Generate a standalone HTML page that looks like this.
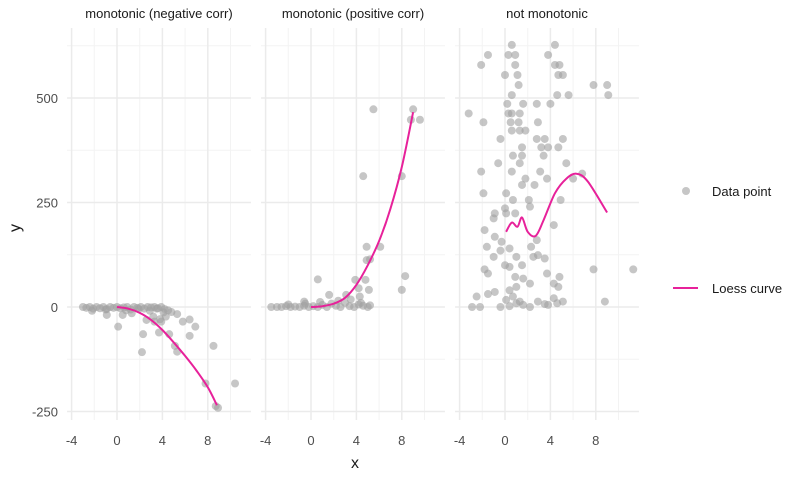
<!DOCTYPE html>
<html><head><meta charset="utf-8"><style>
body{margin:0;background:#fff;width:808px;height:472px;overflow:hidden}
svg text{font-family:"Liberation Sans",sans-serif}
</style></head><body>
<svg id="chart" width="808" height="472" xmlns="http://www.w3.org/2000/svg"></svg>
<script>
const panelTitles=["monotonic (negative corr)","monotonic (positive corr)","not monotonic"];
const xTicks=[-4,0,4,8];
const xMinor=[-2,2,6,10];
const yTicks=[-250,0,250,500];
const yMinor=[-125,125,375,625];
// panel 1
const negX=[-3,-2.7,-2.4,-2.1,-1.8,-1.5,-1.2,-0.9,-0.6,-0.3,0,0.3,0.6,0.9,1.2,1.5,1.8,2.1,2.4,2.7,3,3.3,3.6,3.9,4.2,4.5,-2.2,-1,0.8,1.9,2.9,3.5,4.8,0.1,2.3,2.2,3.9,4.3,5.3,5.8,6.4,6.9,6.4,3.7,4.6,5.1,5.3,8.5,7.8,10.4,8.7,8.9,3.3,3.8,0.5,1.3,-0.9,3.2,4.1,2.6];
const negY=[0,-2,0,-4,0,-3,0,-5,0,-2,0,-3,-1,0,-6,0,-2,0,-4,0,-1,0,-3,0,-5,-8,-9,-6,-8,-5,-9,-4,-12,-47,-65,-108,-35,-23,-17,-35,-30,-47,-69,-61,-65,-93,-107,-93,-183,-183,-237,-241,-35,-29,-19,-15,-19,-23,-13,-31];
const negLoessX=[0,1,2,3,4,5,6,7,8,8.8];
const negLoessY=[0,-4,-14,-31,-55,-85,-117,-152,-192,-235];
// panel 2
const posX=[-3.5,-3,-2.6,-2.2,-1.8,-1.4,-1,-0.6,-0.2,0.2,0.6,1,1.4,1.8,2.2,2.6,3,3.4,3.8,4.2,4.6,5,5.2,-2,-0.5,0.8,2.4,3.5,4.4,0.6,1.6,-0.6,3.1,4.2,3.9,4.8,5.1,4.3,4.9,5.2,4.9,6.1,8.3,8,5.5,9,8.8,9.6,4.6,8];
const posY=[0,0,0,2,0,1,0,3,0,2,0,5,0,8,3,0,10,2,0,6,3,0,4,6,8,12,15,18,10,66,29,13,29,45,65,65,41,25,112,114,144,144,74,41,473,473,448,448,313,313];
const posLoessX=[0,1,2,3,4,5,6,7,8,9];
const posLoessY=[0,2,8,22,53,100,158,235,335,466];
// panel 3
const nmX=[0.6,-1.5,0.3,0.9,-2.1,0.9,0,1.1,1.2,0.6,0.2,1.6,-3.2,0.3,0.6,1.3,-1.9,0.5,1.2,0.6,1.3,1.8,-0.4,1.5,0.7,1.5,-0.6,1.3,-2.1,0.6,1.8,1.5,-1.9,0.1,0.7,0,-0.9,-1,0.1,0.9,-1.8,-0.9,-0.3,-1.6,-0.4,0.4,-1,1,0,-1.8,-1.5,0.4,1.5,0.9,1.6,2.2,1,-0.9,-1.5,-2.5,-2.2,-2.9,0.4,0.7,0.1,1,1.6,2.2,-0.4,0.4,1.3,2.8,4,3.8,4.4,4.4,4.8,4.7,5.1,4.6,5.6,7.8,9,9.1,2.9,2.8,3.5,5.1,3.2,3.8,4.7,3.4,5.4,3.1,3.7,2.6,6,6.8,4.9,2.2,2.1,4.3,2.8,2.3,2.9,2.5,3.5,7.8,11.3,3.7,4.8,4.3,4.7,2.9,3.5,4.3,4.6,5.1,3.8,8.8];
const nmY=[627,603,603,603,579,579,555,555,531,507,486,486,463,463,463,463,442,442,442,422,422,422,402,382,362,362,344,344,324,324,307,292,272,272,256,236,224,212,224,224,184,168,156,144,135,140,120,120,100,90,80,96,100,72,68,56,48,36,31,25,0,0,40,25,17,9,5,0,0,2,13,486,486,603,627,579,579,555,555,507,507,531,531,507,442,402,402,402,382,382,382,362,344,324,307,292,307,319,256,240,256,196,160,144,124,120,116,90,90,80,72,56,48,13,7,21,9,13,5,13];
const nmLoessX=[0.1,0.6,1.1,1.5,2,2.7,3.4,4.4,5.4,6.3,7.3,9];
const nmLoessY=[180,202,192,214,180,170,208,272,307,319,300,226];

const svg=document.getElementById('chart');
const NS="http://www.w3.org/2000/svg";
const origins=[117,311,505];
const kx=11.35, y0=307, ky=0.418;
const sy=v=>y0-v*ky;
function el(t,a,p){const e=document.createElementNS(NS,t);for(const k in a)e.setAttribute(k,a[k]);(p||svg).appendChild(e);return e;}
function smooth(P){let d='M'+P[0][0].toFixed(1)+','+P[0][1].toFixed(1);
  for(let i=0;i<P.length-1;i++){const p0=P[Math.max(0,i-1)],p1=P[i],p2=P[i+1],p3=P[Math.min(P.length-1,i+2)];
    const c1=[p1[0]+(p2[0]-p0[0])/6,p1[1]+(p2[1]-p0[1])/6],c2=[p2[0]-(p3[0]-p1[0])/6,p2[1]-(p3[1]-p1[1])/6];
    d+='C'+c1.map(v=>v.toFixed(1)).join(',')+' '+c2.map(v=>v.toFixed(1)).join(',')+' '+p2[0].toFixed(1)+','+p2[1].toFixed(1);}
  return d;}
const pts=[[negX,negY],[posX,posY],[nmX,nmY]];
const loess=[[negLoessX,negLoessY],[posLoessX,posLoessY],[nmLoessX,nmLoessY]];
for(let p=0;p<3;p++){
  const o=origins[p];const sx=v=>o+v*kx;
  const g=el('g',{});
  
  
  const L=sx(-4.4),R=sx(11.8);
  yMinor.forEach(v=>{const l=el('line',{x1:L,x2:R,y1:sy(v),y2:sy(v),stroke:'#f3f3f3','stroke-width':1},g);});
  xMinor.forEach(v=>{const l=el('line',{x1:sx(v),x2:sx(v),y1:28,y2:420,stroke:'#f3f3f3','stroke-width':1},g);});
  yTicks.forEach(v=>{const l=el('line',{x1:L,x2:R,y1:sy(v),y2:sy(v),stroke:'#ebebeb','stroke-width':1.5},g);});
  xTicks.forEach(v=>{const l=el('line',{x1:sx(v),x2:sx(v),y1:28,y2:420,stroke:'#ebebeb','stroke-width':1.5},g);
    const t=el('text',{x:sx(v),y:445,'text-anchor':'middle','font-size':13,fill:'#4d4d4d'},g);t.textContent=v;});
  const tt=el('text',{x:(L+R)/2,y:18,'text-anchor':'middle','font-size':13,fill:'#1a1a1a'},g);tt.textContent=panelTitles[p];
  
  const [xs,ys]=pts[p];
  xs.forEach((x,i)=>{const c=el('circle',{cx:sx(x),cy:sy(ys[i]),r:4,fill:'#a0a0a0','fill-opacity':0.6},g);});
  const [lx,ly]=loess[p];
  const P=lx.map((x,i)=>[sx(x),sy(ly[i])]);
  const path=el('path',{d:smooth(P),fill:'none',stroke:'#e7219a','stroke-width':2,'stroke-linejoin':'round'},g);
  
}
yTicks.forEach(v=>{const t=el('text',{x:58,y:sy(v)+5,'text-anchor':'end','font-size':13,fill:'#4d4d4d'});t.textContent=v;});
const xt=el('text',{x:355,y:468,'text-anchor':'middle','font-size':16,fill:'#1a1a1a'});xt.textContent='x';
const yt=el('text',{x:20,y:228,'text-anchor':'middle','font-size':16,fill:'#1a1a1a',transform:'rotate(-90 20 228)'});yt.textContent='y';
const lg=el('g',{});
const lc=el('circle',{cx:686,cy:191,r:4,fill:'#a0a0a0','fill-opacity':0.6},lg);
const l1=el('text',{x:712,y:196,'font-size':13,fill:'#1a1a1a'},lg);l1.textContent='Data point';
const ll=el('line',{x1:673,x2:698,y1:288,y2:288,stroke:'#e7219a','stroke-width':2},lg);
const l2=el('text',{x:712,y:293,'font-size':13,fill:'#1a1a1a'},lg);l2.textContent='Loess curve';
</script>
</body></html>
